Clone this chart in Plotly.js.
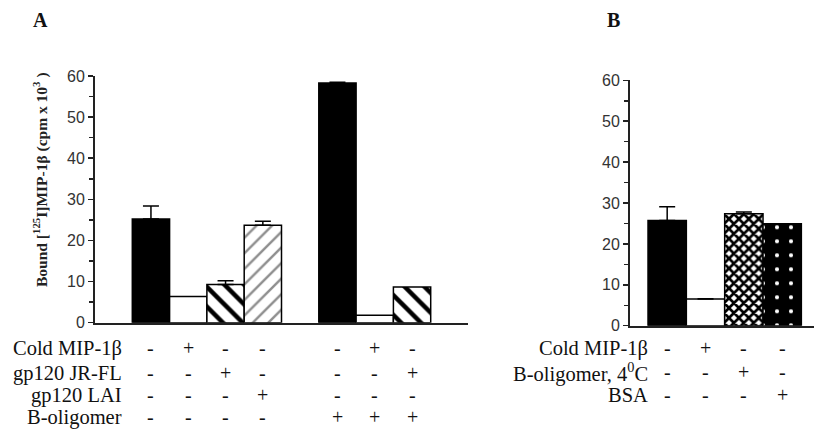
<!DOCTYPE html>
<html>
<head>
<meta charset="utf-8">
<script src="https://cdn.plot.ly/plotly-3.0.1.min.js"></script>
<style>html,body{margin:0;padding:0;background:#fff;}#chart{width:814px;height:430px;}</style>
</head>
<body>
<div id="chart"></div>
<script>
// ---------- Panel A data ----------
const barsA = ['A1','A2','A3','A4','A5','A6','A7'];
const slotsA = ['startA','A1','A2','A3','A4','gapA','A5','A6','A7','endA'];
const valuesA = [25.2, 6.4, 9.3, 23.7, 58.3, 1.8, 8.7];
const errorsA = [3.2, 0.0, 0.9, 1.0, 0.2, 0.0, 0.0];
const rowLabelsA = ['Cold MIP-1β', 'gp120 JR-FL', 'gp120 LAI', 'B-oligomer'];
const signsA = [
  ['-','+','-','-','-','+','-'],
  ['-','-','+','-','-','-','+'],
  ['-','-','-','+','-','-','-'],
  ['-','-','-','-','+','+','+']
];
// ---------- Panel B data ----------
const barsB = ['B1','B2','B3','B4'];
const valuesB = [25.7, 6.5, 27.4, 24.9];
const errorsB = [3.4, 0.1, 0.4, 0.0];
const rowLabelsB = ['Cold MIP-1β', 'B-oligomer, 4<sup>0</sup>C', 'BSA'];
const signsB = [
  ['-','+','-','-'],
  ['-','-','+','-'],
  ['-','-','-','+']
];
const yTicks = [0, 10, 20, 30, 40, 50, 60];

// ---------- styles ----------
const W = 814, H = 430;
const serif = 'Liberation Serif, Times New Roman, serif';
const sans = 'Liberation Sans, Arial, sans-serif';

const SOLID_BLACK = {color:'black'};
const PLAIN_WHITE = {color:'white'};
const HATCH_BACK = {color:'white', pattern:{shape:'\\', fgcolor:'black', bgcolor:'white', size:14, solidity:0.32, fillmode:'replace'}};
const HATCH_GREY = {color:'white', pattern:{shape:'/', fgcolor:'#8e8e8e', bgcolor:'white', size:11, solidity:0.22, fillmode:'replace'}};
const CROSS = {color:'white', pattern:{shape:'x', fgcolor:'black', bgcolor:'white', size:7, solidity:0.62, fillmode:'replace'}};
const DOTS = {color:'black', pattern:{shape:'.', fgcolor:'white', bgcolor:'black', size:14, solidity:0.07, fillmode:'replace'}};

const styleA = [SOLID_BLACK, PLAIN_WHITE, HATCH_BACK, HATCH_GREY, SOLID_BLACK, PLAIN_WHITE, HATCH_BACK];
const styleB = [SOLID_BLACK, PLAIN_WHITE, CROSS, DOTS];

function barTraces(x, y, err, styles, xa, ya) {
  return x.map((cat, i) => {
    const st = styles[i];
    const marker = {color: st.color, line: {color: 'black', width: 1.5}};
    if (st.pattern) marker.pattern = st.pattern;
    return {
      type: 'bar', x: [cat], y: [y[i]], xaxis: xa, yaxis: ya, width: 1,
      marker: marker,
      error_y: {type: 'data', symmetric: false, array: [err[i]], arrayminus: [0],
                color: 'black', thickness: 1.5, width: 8, visible: err[i] > 0},
      hoverinfo: 'skip', showlegend: false
    };
  });
}

const data = [].concat(
  barTraces(barsA, valuesA, errorsA, styleA, 'x', 'y'),
  barTraces(barsB, valuesB, errorsB, styleB, 'x2', 'y2')
);

function yAxis(domain) {
  return {
    domain: domain, range: [0, 60], tickvals: yTicks, ticktext: yTicks.map(String),
    ticks: 'outside', ticklen: 5, tickwidth: 1.5, tickcolor: '#222',
    minor: {dtick: 5, ticks: 'outside', ticklen: 4, tickwidth: 1.5, tickcolor: '#222'},
    showline: true, linecolor: '#222', linewidth: 2, showgrid: false, zeroline: false,
    tickfont: {family: sans, size: 16, color: '#333'}, fixedrange: true
  };
}

const px = v => v / W;
const py = v => 1 - v / H;

const annotations = [];
annotations.push({xref:'paper', yref:'paper', x: px(40), y: py(20), text:'<b>A</b>', showarrow:false,
  font:{family: serif, size: 20, color:'#111'}, xanchor:'center', yanchor:'middle'});
annotations.push({xref:'paper', yref:'paper', x: px(613), y: py(20), text:'<b>B</b>', showarrow:false,
  font:{family: serif, size: 20, color:'#111'}, xanchor:'center', yanchor:'middle'});
annotations.push({xref:'paper', yref:'paper', x: px(40), y: py(180), textangle: -90, showarrow:false,
  text:'<b>Bound [<sup>125</sup>I]MIP-1β (cpm x 10<sup>3</sup> )</b>',
  font:{family: serif, size: 15.5, color:'#222'}, xanchor:'center', yanchor:'middle'});

const rowYA = [348, 373, 395, 417];
rowLabelsA.forEach((lab, r) => {
  annotations.push({xref:'paper', yref:'paper', x: px(124), y: py(rowYA[r]), text: lab, showarrow:false,
    xanchor:'right', yanchor:'middle', font:{family: serif, size: 20.5, color:'#111'}});
  signsA[r].forEach((s, i) => {
    annotations.push({xref:'x', yref:'paper', x: barsA[i], y: py(rowYA[r]), text: s, showarrow:false,
      xanchor:'center', yanchor:'middle', font:{family: serif, size: 20, color:'#111'}});
  });
});
const rowYB = [348, 372, 395];
rowLabelsB.forEach((lab, r) => {
  annotations.push({xref:'paper', yref:'paper', x: px(650), y: py(rowYB[r]), text: lab, showarrow:false,
    xanchor:'right', yanchor:'middle', font:{family: serif, size: 20.5, color:'#111'}});
  signsB[r].forEach((s, i) => {
    annotations.push({xref:'x2', yref:'paper', x: barsB[i], y: py(rowYB[r]), text: s, showarrow:false,
      xanchor:'center', yanchor:'middle', font:{family: serif, size: 20, color:'#111'}});
  });
});

const layout = {
  width: W, height: H, margin: {l:0, r:0, t:0, b:0},
  paper_bgcolor: 'white', plot_bgcolor: 'rgba(0,0,0,0)',
  bargap: 0, barmode: 'overlay',
  xaxis: {domain: [px(95), px(468)], type: 'category', categoryorder: 'array',
          categoryarray: slotsA, range: [-0.5, 9.5], anchor: 'y',
          showticklabels: false, ticks: '', showline: true, linecolor: '#222', linewidth: 2,
          showgrid: false, zeroline: false, fixedrange: true},
  yaxis: Object.assign(yAxis([py(322.7), py(76)]), {anchor: 'x'}),
  xaxis2: {domain: [px(630), 1], type: 'category', categoryorder: 'array',
           categoryarray: barsB, range: [-0.97, 3.83], anchor: 'y2',
           showticklabels: false, ticks: '', showline: true, linecolor: '#222', linewidth: 2,
           showgrid: false, zeroline: false, fixedrange: true},
  yaxis2: Object.assign(yAxis([py(325.7), py(80.3)]), {anchor: 'x2'}),
  annotations: annotations
};

Plotly.newPlot('chart', data, layout, {staticPlot: true, displayModeBar: false});
</script>
</body>
</html>
